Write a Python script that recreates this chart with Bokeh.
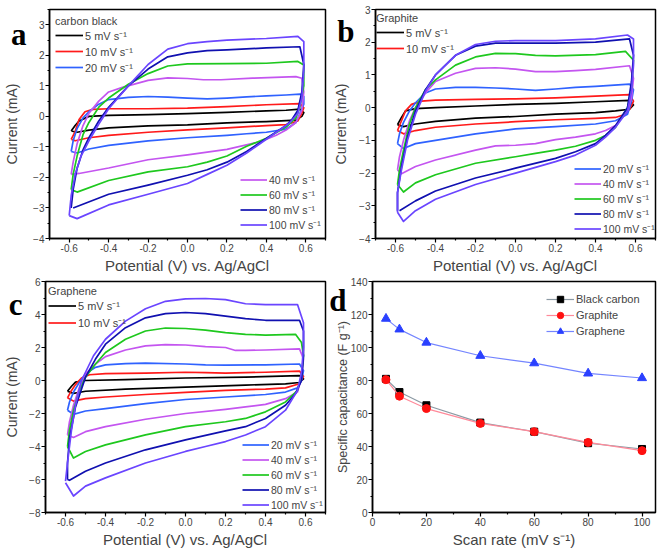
from bokeh.plotting import figure
from bokeh.models import Legend, LegendItem, FixedTicker, PrintfTickFormatter, Range1d, LinearAxis
from bokeh.layouts import column, row
from bokeh.embed import file_html
from bokeh.resources import INLINE

# ---------------- data ----------------
scan_labels = ["5 mV s\u207b\u00b9", "10 mV s\u207b\u00b9", "20 mV s\u207b\u00b9", "40 mV s\u207b\u00b9",
               "60 mV s\u207b\u00b9", "80 mV s\u207b\u00b9", "100 mV s\u207b\u00b9"]

# Panel a: carbon black, (potential V, current mA) loops
a_5 = [(-0.59,-0.48),(-0.57,-0.3),(-0.55,-0.15),(-0.5,0.0),(-0.4,0.03),(-0.2,0.06),(0.0,0.09),(0.2,0.13),(0.4,0.18),(0.5,0.2),(0.57,0.24),(0.59,0.12),(0.58,0.0),(0.55,-0.12),(0.5,-0.14),(0.4,-0.17),(0.2,-0.21),(0.0,-0.28),(-0.2,-0.31),(-0.4,-0.38),(-0.5,-0.45),(-0.56,-0.52),(-0.59,-0.48)]
a_10 = [(-0.59,-0.75),(-0.57,-0.5),(-0.55,-0.1),(-0.52,0.15),(-0.48,0.23),(-0.4,0.25),(-0.2,0.25),(0.0,0.27),(0.2,0.32),(0.4,0.38),(0.57,0.42),(0.59,0.28),(0.58,0.1),(0.56,-0.15),(0.5,-0.27),(0.4,-0.3),(0.2,-0.38),(0.0,-0.44),(-0.2,-0.52),(-0.4,-0.62),(-0.5,-0.7),(-0.57,-0.8),(-0.59,-0.75)]
a_20 = [(-0.59,-1.15),(-0.58,-0.8),(-0.56,-0.4),(-0.53,-0.05),(-0.5,0.15),(-0.45,0.4),(-0.4,0.55),(-0.3,0.62),(-0.2,0.65),(-0.1,0.63),(0.0,0.6),(0.1,0.57),(0.2,0.6),(0.3,0.64),(0.4,0.67),(0.5,0.7),(0.57,0.73),(0.59,0.65),(0.59,0.4),(0.57,0.1),(0.55,-0.2),(0.5,-0.42),(0.4,-0.52),(0.3,-0.57),(0.2,-0.62),(0.0,-0.7),(-0.2,-0.8),(-0.4,-0.95),(-0.5,-1.07),(-0.56,-1.2),(-0.59,-1.15)]
a_40 = [(-0.59,-1.9),(-0.58,-1.5),(-0.56,-0.9),(-0.53,-0.3),(-0.5,0.1),(-0.45,0.5),(-0.4,0.8),(-0.33,0.95),(-0.2,1.18),(-0.1,1.26),(0.0,1.24),(0.08,1.2),(0.17,1.2),(0.33,1.25),(0.55,1.3),(0.58,1.25),(0.59,0.8),(0.58,0.2),(0.55,-0.2),(0.5,-0.45),(0.45,-0.62),(0.37,-0.83),(0.2,-1.08),(0.0,-1.26),(-0.2,-1.42),(-0.4,-1.69),(-0.55,-1.87),(-0.59,-1.9)]
a_60 = [(-0.59,-2.4),(-0.58,-1.9),(-0.56,-1.3),(-0.53,-0.6),(-0.5,-0.2),(-0.45,0.3),(-0.4,0.6),(-0.3,1.05),(-0.2,1.4),(-0.1,1.65),(0.0,1.72),(0.2,1.73),(0.4,1.74),(0.56,1.8),(0.59,1.68),(0.59,1.0),(0.57,0.3),(0.55,-0.05),(0.5,-0.35),(0.4,-0.72),(0.3,-0.98),(0.2,-1.3),(0.1,-1.5),(0.0,-1.65),(-0.2,-1.82),(-0.4,-2.1),(-0.56,-2.48),(-0.59,-2.4)]
a_80 = [(-0.59,-3.0),(-0.58,-2.4),(-0.56,-1.7),(-0.53,-1.1),(-0.5,-0.7),(-0.45,-0.15),(-0.4,0.3),(-0.3,1.0),(-0.2,1.55),(-0.1,1.95),(0.0,2.08),(0.1,2.15),(0.2,2.18),(0.4,2.24),(0.57,2.28),(0.59,1.7),(0.58,0.8),(0.56,0.2),(0.53,-0.1),(0.5,-0.3),(0.4,-0.72),(0.3,-1.15),(0.2,-1.5),(0.1,-1.75),(0.0,-1.93),(-0.2,-2.25),(-0.4,-2.55),(-0.58,-3.0)]
a_100 = [(-0.6,-3.25),(-0.59,-2.6),(-0.57,-1.9),(-0.54,-1.3),(-0.5,-0.8),(-0.45,-0.25),(-0.4,0.25),(-0.3,1.0),(-0.2,1.7),(-0.1,2.2),(0.0,2.38),(0.1,2.45),(0.2,2.5),(0.4,2.55),(0.56,2.62),(0.59,2.45),(0.59,1.5),(0.58,0.6),(0.56,0.1),(0.52,-0.2),(0.5,-0.3),(0.4,-0.75),(0.3,-1.2),(0.2,-1.6),(0.1,-1.9),(0.0,-2.2),(-0.2,-2.55),(-0.4,-2.9),(-0.56,-3.35),(-0.6,-3.25)]

# Panel b: graphite
b_5 = [(-0.59,-0.52),(-0.57,-0.3),(-0.55,-0.1),(-0.5,-0.03),(-0.4,0.0),(-0.2,0.05),(0.0,0.1),(0.2,0.13),(0.4,0.18),(0.57,0.22),(0.59,0.08),(0.57,-0.05),(0.5,-0.1),(0.4,-0.15),(0.2,-0.2),(0.0,-0.27),(-0.2,-0.32),(-0.4,-0.42),(-0.5,-0.5),(-0.56,-0.58),(-0.59,-0.52)]
b_10 = [(-0.59,-0.7),(-0.57,-0.4),(-0.55,-0.1),(-0.52,0.1),(-0.47,0.2),(-0.4,0.23),(-0.2,0.25),(0.0,0.27),(0.2,0.3),(0.4,0.35),(0.57,0.4),(0.59,0.2),(0.57,-0.05),(0.55,-0.2),(0.5,-0.3),(0.4,-0.33),(0.2,-0.37),(0.0,-0.43),(-0.2,-0.5),(-0.4,-0.6),(-0.5,-0.7),(-0.56,-0.8),(-0.59,-0.7)]
b_20 = [(-0.59,-1.1),(-0.58,-0.8),(-0.56,-0.45),(-0.53,-0.1),(-0.5,0.15),(-0.45,0.45),(-0.4,0.57),(-0.3,0.62),(-0.2,0.62),(-0.1,0.6),(0.0,0.57),(0.1,0.53),(0.2,0.57),(0.3,0.62),(0.4,0.65),(0.57,0.72),(0.59,0.55),(0.58,0.2),(0.56,-0.2),(0.5,-0.4),(0.4,-0.5),(0.2,-0.58),(0.0,-0.65),(-0.2,-0.8),(-0.4,-1.0),(-0.5,-1.1),(-0.56,-1.25),(-0.59,-1.1)]
b_40 = [(-0.59,-1.9),(-0.58,-1.5),(-0.56,-1.0),(-0.53,-0.4),(-0.5,0.0),(-0.45,0.45),(-0.4,0.8),(-0.3,1.05),(-0.2,1.2),(-0.1,1.22),(0.0,1.18),(0.1,1.1),(0.2,1.1),(0.3,1.13),(0.4,1.17),(0.57,1.28),(0.59,0.9),(0.58,0.3),(0.56,-0.1),(0.5,-0.55),(0.45,-0.7),(0.4,-0.8),(0.3,-0.9),(0.2,-0.98),(0.1,-1.1),(0.0,-1.15),(-0.1,-1.17),(-0.2,-1.3),(-0.4,-1.6),(-0.5,-1.8),(-0.57,-2.02),(-0.59,-1.9)]
b_60 = [(-0.59,-2.35),(-0.58,-1.9),(-0.56,-1.3),(-0.53,-0.5),(-0.5,0.0),(-0.45,0.55),(-0.4,0.85),(-0.3,1.3),(-0.2,1.55),(-0.1,1.66),(0.0,1.65),(0.1,1.6),(0.2,1.58),(0.4,1.62),(0.55,1.72),(0.59,1.45),(0.58,0.6),(0.56,0.0),(0.5,-0.6),(0.45,-0.85),(0.4,-1.0),(0.3,-1.18),(0.2,-1.3),(0.1,-1.4),(0.0,-1.5),(-0.2,-1.7),(-0.4,-2.05),(-0.5,-2.3),(-0.56,-2.58),(-0.59,-2.35)]
b_80 = [(-0.59,-3.15),(-0.59,-2.6),(-0.57,-1.8),(-0.54,-0.9),(-0.5,-0.1),(-0.45,0.55),(-0.4,1.0),(-0.3,1.6),(-0.2,1.88),(-0.1,1.97),(0.0,1.97),(0.2,1.97),(0.4,2.0),(0.57,2.1),(0.59,1.6),(0.58,0.8),(0.56,0.0),(0.5,-0.55),(0.45,-0.85),(0.4,-1.1),(0.3,-1.35),(0.2,-1.55),(0.0,-1.85),(-0.2,-2.15),(-0.4,-2.55),(-0.5,-2.85),(-0.58,-3.15)]
b_100 = [(-0.59,-3.2),(-0.59,-2.6),(-0.57,-1.9),(-0.54,-1.0),(-0.5,-0.2),(-0.45,0.5),(-0.4,1.0),(-0.3,1.6),(-0.2,1.93),(-0.1,2.03),(0.0,2.05),(0.2,2.05),(0.4,2.1),(0.56,2.22),(0.59,2.1),(0.59,1.3),(0.58,0.5),(0.56,-0.1),(0.5,-0.6),(0.45,-0.9),(0.4,-1.15),(0.3,-1.45),(0.2,-1.65),(0.0,-2.0),(-0.2,-2.35),(-0.4,-2.8),(-0.5,-3.15),(-0.56,-3.48),(-0.59,-3.2)]

# Panel c: graphene
c_5 = [(-0.59,-0.65),(-0.57,-0.35),(-0.55,-0.1),(-0.5,0.0),(-0.3,0.05),(0.0,0.15),(0.3,0.2),(0.57,0.3),(0.59,0.1),(0.57,-0.12),(0.5,-0.2),(0.3,-0.28),(0.0,-0.4),(-0.3,-0.52),(-0.5,-0.65),(-0.56,-0.78),(-0.59,-0.65)]
c_10 = [(-0.59,-1.05),(-0.57,-0.6),(-0.55,-0.25),(-0.52,0.15),(-0.48,0.35),(-0.4,0.42),(-0.2,0.45),(0.0,0.5),(0.1,0.48),(0.2,0.45),(0.4,0.5),(0.57,0.57),(0.59,0.25),(0.57,-0.2),(0.5,-0.45),(0.4,-0.52),(0.2,-0.6),(0.0,-0.72),(-0.2,-0.85),(-0.4,-1.0),(-0.5,-1.1),(-0.56,-1.25),(-0.59,-1.05)]
c_20 = [(-0.59,-1.8),(-0.58,-1.3),(-0.56,-0.7),(-0.53,-0.1),(-0.5,0.4),(-0.45,0.8),(-0.4,0.95),(-0.3,1.02),(-0.2,1.05),(0.0,1.0),(0.1,0.95),(0.2,0.93),(0.4,0.95),(0.57,1.0),(0.59,0.6),(0.58,0.0),(0.56,-0.45),(0.5,-0.7),(0.4,-0.85),(0.2,-1.0),(0.0,-1.15),(-0.2,-1.4),(-0.4,-1.7),(-0.5,-1.85),(-0.56,-2.05),(-0.59,-1.8)]
c_40 = [(-0.59,-3.3),(-0.58,-2.5),(-0.56,-1.5),(-0.53,-0.4),(-0.5,0.4),(-0.45,1.0),(-0.4,1.45),(-0.3,1.85),(-0.2,2.1),(-0.1,2.18),(0.0,2.15),(0.1,2.05),(0.2,2.0),(0.25,1.82),(0.3,1.82),(0.4,1.85),(0.57,1.92),(0.59,1.3),(0.58,0.2),(0.56,-0.7),(0.5,-1.1),(0.4,-1.45),(0.3,-1.6),(0.2,-1.75),(0.0,-2.0),(-0.2,-2.35),(-0.4,-2.8),(-0.5,-3.1),(-0.56,-3.45),(-0.59,-3.3)]
c_60 = [(-0.59,-4.0),(-0.58,-3.0),(-0.56,-1.8),(-0.53,-0.6),(-0.5,0.2),(-0.45,1.0),(-0.4,1.7),(-0.3,2.5),(-0.2,3.0),(-0.1,3.18),(0.0,3.15),(0.1,3.05),(0.2,2.9),(0.3,2.8),(0.4,2.75),(0.55,2.8),(0.58,2.3),(0.59,1.5),(0.58,0.3),(0.56,-0.6),(0.5,-1.3),(0.4,-1.9),(0.3,-2.3),(0.2,-2.5),(0.0,-2.8),(-0.2,-3.3),(-0.4,-3.9),(-0.5,-4.3),(-0.56,-4.7),(-0.59,-4.0)]
c_80 = [(-0.59,-6.0),(-0.59,-5.0),(-0.58,-3.5),(-0.55,-1.6),(-0.5,0.2),(-0.45,1.3),(-0.4,2.2),(-0.3,3.2),(-0.2,3.8),(-0.1,4.05),(0.0,4.12),(0.1,4.05),(0.2,3.9),(0.3,3.75),(0.4,3.65),(0.57,3.65),(0.59,3.0),(0.59,1.5),(0.58,0.0),(0.55,-0.8),(0.5,-1.5),(0.4,-2.3),(0.3,-2.8),(0.2,-3.05),(0.0,-3.6),(-0.2,-4.2),(-0.4,-5.0),(-0.5,-5.5),(-0.58,-6.05),(-0.59,-6.0)]
c_100 = [(-0.6,-6.1),(-0.59,-5.0),(-0.57,-3.0),(-0.55,-1.5),(-0.52,0.0),(-0.46,1.5),(-0.4,2.5),(-0.3,3.6),(-0.2,4.35),(-0.1,4.8),(0.0,4.95),(0.1,4.97),(0.2,4.9),(0.3,4.65),(0.4,4.6),(0.56,4.6),(0.59,3.5),(0.59,2.0),(0.58,0.5),(0.56,-0.6),(0.5,-1.8),(0.4,-2.8),(0.3,-3.3),(0.2,-3.7),(0.1,-4.0),(0.0,-4.3),(-0.2,-5.0),(-0.4,-5.9),(-0.5,-6.4),(-0.56,-7.0),(-0.6,-6.2)]

# Panel d: specific capacitance vs scan rate
scan_rate = [5, 10, 20, 40, 60, 80, 100]
cap_black_carbon = [81, 73, 65, 54.5, 49, 42, 38.5]
cap_graphite = [80.5, 70.5, 63, 54, 49, 42.5, 37.5]
cap_graphene = [117.5, 111, 103, 95, 90.5, 84.3, 81.5]

# ---------------- styles ----------------
cv_colors = ["#000000", "#ff1a1a", "#2f62ff", "#c455f0", "#1ec81e", "#1010b0", "#6a45ff"]
SANS = "Liberation Sans"


def base_fig(w, h, xr, yr, bl, br, bt, bb):
    p = figure(width=w, height=h, x_range=Range1d(*xr), y_range=Range1d(*yr),
               output_backend="svg", toolbar_location=None,
               min_border_left=bl, min_border_right=br, min_border_top=bt, min_border_bottom=bb)
    p.grid.visible = False
    p.outline_line_color = "black"
    p.outline_line_width = 1.5
    p.background_fill_color = "white"
    p.border_fill_color = "white"
    for ax in (p.xaxis[0], p.yaxis[0]):
        ax.axis_line_width = 1.5
        ax.major_tick_out = 4
        ax.major_tick_in = 0
        ax.minor_tick_out = 2
        ax.minor_tick_in = 0
        ax.major_tick_line_width = 1.2
        ax.minor_tick_line_width = 1.2
        ax.major_label_text_font = SANS
        ax.major_label_text_font_size = "10px"
        ax.major_label_standoff = 1
        ax.axis_label_text_font = SANS
        ax.axis_label_text_font_style = "normal"
    p.xaxis.axis_label_standoff = 2
    p.xaxis.axis_label_text_font_size = "15px"
    return p


def add_letter_axis(p, letter, ypos, ylabel, letter_standoff, label_standoff, label_size="14px"):
    """Outer left axis carrying the panel letter (as its single tick label) and the y title."""
    ax = LinearAxis(ticker=FixedTicker(ticks=[ypos], minor_ticks=[]),
                    major_label_overrides={ypos: letter})
    ax.axis_line_color = None
    ax.major_tick_line_color = None
    ax.minor_tick_line_color = None
    ax.major_tick_out = 0
    ax.major_tick_in = 0
    ax.minor_tick_out = 0
    ax.minor_tick_in = 0
    ax.major_label_text_font = "Liberation Serif"
    ax.major_label_text_font_style = "bold"
    ax.major_label_text_font_size = "31px"
    ax.major_label_text_color = "black"
    ax.major_label_standoff = letter_standoff
    ax.axis_label = ylabel
    ax.axis_label_text_font = SANS
    ax.axis_label_text_font_style = "normal"
    ax.axis_label_text_font_size = label_size
    ax.axis_label_standoff = label_standoff
    p.add_layout(ax, "left")


def legend_style(lg, row_h, pad, label_size="11px", glyph_w=28):
    lg.glyph_width = glyph_w
    lg.glyph_height = row_h
    lg.label_height = row_h
    lg.label_standoff = 2
    lg.spacing = 0
    lg.padding = pad
    lg.margin = 0
    lg.border_line_color = None
    lg.background_fill_alpha = 0
    lg.label_text_font = SANS
    lg.label_text_font_size = label_size
    lg.title_text_font = SANS
    lg.title_text_font_size = "11px"
    lg.title_text_font_style = "normal"
    lg.title_standoff = 0


def cv_panel(w, h, yr, yticks, yminor, curves, n_top, title, borders,
             top_loc, top_row, bot_loc, bot_row, bot_pad, let):
    p = base_fig(w, h, (-0.7, 0.7), yr, *borders)
    p.xaxis.ticker = FixedTicker(ticks=[-0.6, -0.4, -0.2, 0.0, 0.2, 0.4, 0.6],
                                 minor_ticks=[-0.7, -0.5, -0.3, -0.1, 0.1, 0.3, 0.5, 0.7])
    p.xaxis.formatter = PrintfTickFormatter(format="%.1f")
    p.yaxis.ticker = FixedTicker(ticks=yticks, minor_ticks=yminor)
    p.xaxis.axis_label = "Potential (V) vs. Ag/AgCl"
    rends = []
    for data, col in zip(curves, cv_colors):
        xs = [d[0] for d in data]
        ys = [d[1] for d in data]
        r = p.line(xs, ys, line_color=col, line_width=1.7, line_join="round")
        rends.append(r)
    items = [LegendItem(label=lab, renderers=[r]) for lab, r in zip(scan_labels, rends)]
    lg1 = Legend(items=items[:n_top], location=top_loc, title=title)
    legend_style(lg1, top_row, 2)
    lg2 = Legend(items=items[n_top:], location=bot_loc)
    legend_style(lg2, bot_row, bot_pad, "10.5px", 27)
    p.add_layout(lg1)
    p.add_layout(lg2)
    add_letter_axis(p, let[0], let[1], "Current (mA)", let[2], let[3])
    return p


# borders: (left, right, top, bottom)
pa = cv_panel(330, 276, (-4, 3.5), [-4, -3, -2, -1, 0, 1, 2, 3],
              [-3.5, -2.5, -1.5, -0.5, 0.5, 1.5, 2.5, 3.5],
              [a_5, a_10, a_20, a_40, a_60, a_80, a_100], 3, "carbon black",
              (42, 5, 7, 36), (6, 163), 16, (191, 6), 15, 2, ("a", 2.6875, 4, -12))

pb = cv_panel(331, 276, (-4, 3), [-4, -3, -2, -1, 0, 1, 2, 3],
              [-3.5, -2.5, -1.5, -0.5, 0.5, 1.5, 2.5],
              [b_5, b_10, b_20, b_40, b_60, b_80, b_100], 2, "Graphite",
              (42, 6, 9, 35), (1, 182), 16, (199, 2), 15, 2, ("b", 2.3125, 2, -15))

pc = cv_panel(330, 274, (-8, 6), [-8, -6, -4, -2, 0, 2, 4, 6],
              [-7, -5, -3, -1, 1, 3, 5],
              [c_5, c_10, c_20, c_40, c_60, c_80, c_100], 2, "Graphene",
              (42, 5, 4, 37), (3, 181), 17, (197, 0), 15, 1, ("c", 4.625, 4, -14))

# Panel d
pd = base_fig(331, 274, (0, 105), (0, 140), 42, 6, 5, 36)
pd.xaxis.ticker = FixedTicker(ticks=[0, 20, 40, 60, 80, 100], minor_ticks=[10, 30, 50, 70, 90])
pd.yaxis.ticker = FixedTicker(ticks=[0, 20, 40, 60, 80, 100, 120, 140],
                              minor_ticks=[10, 30, 50, 70, 90, 110, 130])
pd.xaxis.axis_label = "Scan rate (mV s\u207b\u00b9)"

l1 = pd.line(scan_rate, cap_black_carbon, line_color="#8c9aa4", line_width=1.2)
m1 = pd.scatter(scan_rate, cap_black_carbon, marker="square", size=7, fill_color="black", line_color="black")
l2 = pd.line(scan_rate, cap_graphite, line_color="#ff8a9a", line_width=1.2)
m2 = pd.scatter(scan_rate, cap_graphite, marker="circle", size=8, fill_color="#ff1010", line_color="#ff1010")
l3 = pd.line(scan_rate, cap_graphene, line_color="#7485ff", line_width=1.2)
m3 = pd.scatter(scan_rate, cap_graphene, marker="triangle", size=9, fill_color="#2a40ff", line_color="#2a40ff")

lgd = Legend(items=[LegendItem(label="Black carbon", renderers=[l1, m1]),
                    LegendItem(label="Graphite", renderers=[l2, m2]),
                    LegendItem(label="Graphene", renderers=[l3, m3])],
             location=(174, 173))
legend_style(lgd, 16, 2)
pd.add_layout(lgd)
add_letter_axis(pd, "d", 128.5, "Specific capacitance (F g\u207b\u00b9)", 1, -24, "12.5px")

layout = column(row(pa, pb), row(pc, pd))

with open("out.html", "w") as f:
    f.write(file_html(layout, INLINE))
